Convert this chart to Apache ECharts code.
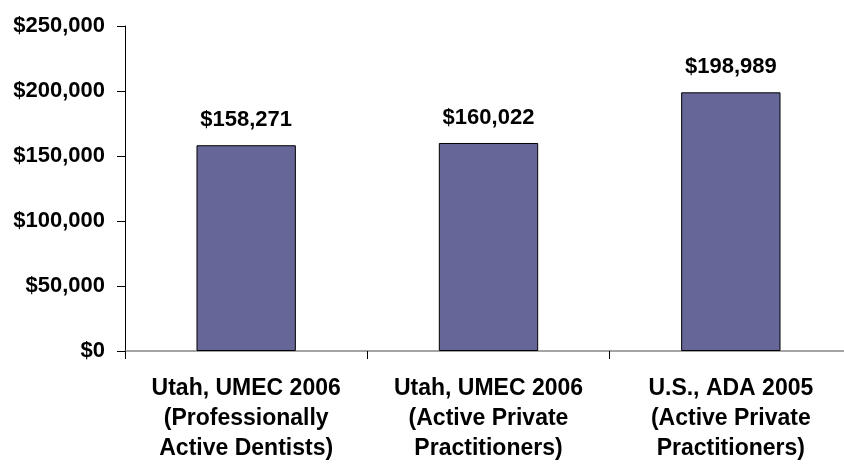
<!DOCTYPE html>
<html>
<head>
<meta charset="utf-8">
<script src="https://cdn.jsdelivr.net/npm/echarts@6/dist/echarts.min.js"></script>
<style>
  html, body { margin: 0; padding: 0; background: #fff; }
  #chart { width: 844px; height: 464px; }
</style>
</head>
<body>
<div id="chart"></div>
<script>
const categories = [
  'Utah, UMEC 2006\n(Professionally\nActive Dentists)',
  'Utah, UMEC 2006\n(Active Private\nPractitioners)',
  'U.S., ADA 2005\n(Active Private\nPractitioners)'
];
const incomes = [158271, 160022, 198989];

const FONT = '"Liberation Sans", Arial, sans-serif';
const money = v => '$' + v.toLocaleString('en-US');

const chart = echarts.init(document.getElementById('chart'), null, { renderer: 'canvas' });

chart.setOption({
  backgroundColor: '#fff',
  animation: false,
  // plot runs past the right edge, as in the original
  grid: { left: 125, width: 727, top: 26, bottom: 113, outerBoundsMode: 'none' },
  xAxis: {
    type: 'category',
    data: categories,
    axisLine: { lineStyle: { color: '#868686', width: 1.5 } },
    axisTick: { show: true, length: 8, lineStyle: { color: '#000' } },
    axisLabel: {
      color: '#000', fontFamily: FONT, fontWeight: 'bold', fontSize: 23,
      lineHeight: 30, margin: 23, interval: 0
    }
  },
  yAxis: {
    type: 'value',
    min: 0, max: 250000, interval: 50000,
    axisLine: { show: true, lineStyle: { color: '#000', width: 1 } },
    axisTick: { show: true, length: 8, lineStyle: { color: '#000' } },
    splitLine: { show: false },
    axisLabel: {
      color: '#000', fontFamily: FONT, fontWeight: 'bold', fontSize: 22,
      margin: 20, formatter: money
    }
  },
  series: [{
    type: 'bar',
    data: incomes,
    barWidth: '41%',
    itemStyle: { color: '#666699', borderColor: '#000', borderWidth: 1 },
    label: {
      show: true, position: 'top', distance: 14,
      color: '#000', fontFamily: FONT, fontWeight: 'bold', fontSize: 22,
      formatter: p => money(p.value)
    }
  }]
});
</script>
</body>
</html>
